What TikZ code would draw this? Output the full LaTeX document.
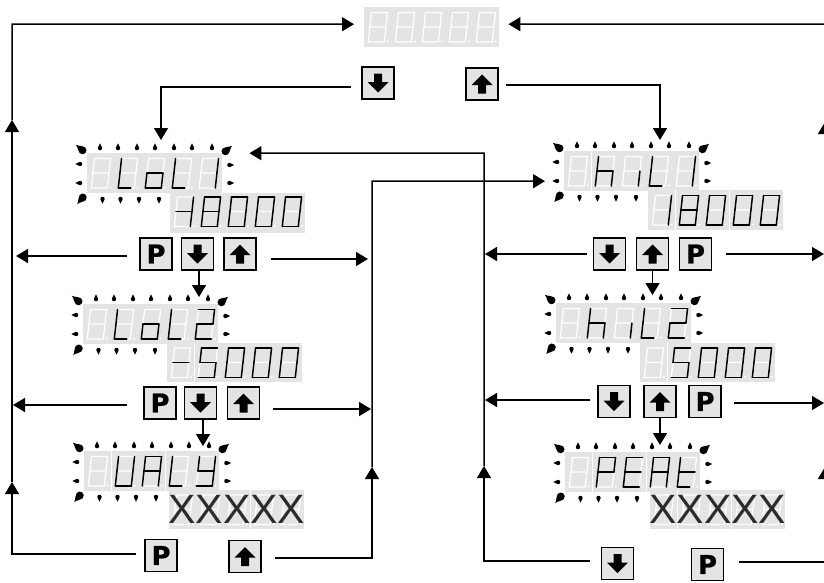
\documentclass[tikz,border=0pt]{standalone}
\usepackage{fontspec}
\setmainfont{Liberation Sans}
\newfontfamily\btnfont[BoldFeatures={FakeBold=0.7}]{DejaVu Sans}
\usetikzlibrary{arrows.meta}
\definecolor{panelgray}{HTML}{E4E4E4}
\definecolor{xgray}{HTML}{2B2B2B}
\tikzset{
  conn/.style={draw=black,line width=1.5pt},
  arr/.style={conn,-{Triangle[length=12pt,width=14pt]}},
  panelbox/.style={fill=panelgray,draw=none,anchor=north west,inner sep=0pt,minimum width=135pt,minimum height=39.5pt},
  btnbox/.style={fill=panelgray,draw=black,line width=1.5pt,inner sep=0pt,minimum width=32pt,minimum height=32pt},
  ghost/.style={draw=white,line width=1.3pt,line cap=round},
  lit/.style={draw=black,line width=1.5pt,line cap=round},
  xmark/.style={text=xgray,inner sep=0pt,font=\fontsize{41}{41}\selectfont}
}
\def\sga{(0,-29.5)--(16,-29.5)}
\def\sgb{(16,-29.5)--(16,-15)}
\def\sgc{(16,-15)--(16,0)}
\def\sgd{(0,0)--(16,0)}
\def\sge{(0,-15)--(0,0)}
\def\sgf{(0,-29.5)--(0,-15)}
\def\sgg{(0,-15)--(16,-15)}
\def\sgs{(0,0)--(12.5,0)}
\def\sgn{(0,0)}
\def\dy{35}
% one digit: cell left, cell top, list of lit segments
\newcommand\dig[3]{%
  \begin{scope}[shift={(#1+4.3,#2+\dy)},xslant=0.11]
    \draw[ghost] (0,-29.5) rectangle (16,0) (0,-15) -- (16,-15);
    \fill[white] (19.4,-0.5) circle (1.1pt);
    \foreach \s in {#3}{%
      \expandafter\let\expandafter\segtmp\csname sg\s\endcsname
      \draw[lit] \segtmp;
    }
  \end{scope}}
% panel of five digits
\newcommand\disp[8]{%
  \node[panelbox] (#1) at (#2,#3) {};
  \dig{#2}{#3}{#4}\dig{#2+27}{#3}{#5}\dig{#2+54}{#3}{#6}\dig{#2+81}{#3}{#7}\dig{#2+108}{#3}{#8}}
\newcommand\psep[2]{\draw[white,line width=0.8pt] ([xshift=#2*27pt]#1.north west) -- ([xshift=#2*27pt]#1.south west);}
% drop: x,y,rotation,scale
\newcommand\drp[4]{\fill[black,shift={(#1,#2)},rotate=#3,scale=#4] (0,-3.5) .. controls (0.4,-1.5) and (2.1,-0.6) .. (2.1,1) .. controls (2.1,3.8) and (-2.1,3.8) .. (-2.1,1) .. controls (-2.1,-0.6) and (-0.4,-1.5) .. (0,-3.5) -- cycle;}
\newcommand\blinks[2]{%
  \foreach \q in {13,31,50,68,87,105,125}{\drp{#1+\q}{#2-6}{0}{1.05}}
  \foreach \q in {15.5,33.5,52,72}{\drp{#1+\q}{#2+47}{180}{1.05}}
  \drp{#1-8}{#2+11}{90}{1.05}\drp{#1-8}{#2+30}{90}{1.05}
  \drp{#1+143.5}{#2+12}{-90}{1.05}\drp{#1+143.5}{#2+30}{-90}{1.05}
  \drp{#1-6}{#2-4}{50}{1.9}\drp{#1+140}{#2-3}{-50}{1.9}\drp{#1-5.5}{#2+46}{140}{1.9}}
% buttons
\newcommand\btnP[3]{\node[btnbox,font=\btnfont\bfseries\fontsize{26}{26}\selectfont] (#1) at (#2,#3) {P};}
\newcommand\btnU[3]{\node[btnbox] (#1) at (#2,#3) {};
  \fill[black,shift={(#1.center)}] (0,-9.5) -- (10.5,1) -- (4,1) -- (4,9.5) -- (-4,9.5) -- (-4,1) -- (-10.5,1) -- cycle;}
\newcommand\btnD[3]{\node[btnbox] (#1) at (#2,#3) {};
  \fill[black,shift={(#1.center)}] (0,9.5) -- (10.5,-1) -- (4,-1) -- (4,-9.5) -- (-4,-9.5) -- (-4,-1) -- (-10.5,-1) -- cycle;}
\begin{document}
\begin{tikzpicture}[x=1pt,y=-1pt]
\useasboundingbox (0,0) rectangle (824,582);
\clip (0,0) rectangle (824,582);

% displays
\disp{dTop}{364}{7}{n}{n}{n}{n}{n}

\disp{dLoA}{87}{153}{n}{s,e,f}{c,d,e,g}{s,e,f}{b,c}
\def\dy{33.5}
\disp{dLoAv}{170}{193}{b,c,g}{a,b,c,d,e,f,g}{a,b,c,d,e,f}{a,b,c,d,e,f}{a,b,c,d,e,f}
\def\dy{35}
\blinks{87}{153}

\disp{dLoB}{83}{304}{n}{s,e,f}{c,d,e,g}{s,e,f}{a,b,g,e,d}
\disp{dLoBv}{167}{342.5}{g}{a,f,g,c,d}{a,b,c,d,e,f}{a,b,c,d,e,f}{a,b,c,d,e,f}
\psep{dLoBv}{1}
\blinks{83}{304}

\disp{dVal}{84}{451}{n}{b,c,d,e,f}{a,b,c,e,f,g}{s,e,f}{b,c,d,f,g}
\disp{dValv}{169}{489.5}{n}{n}{n}{n}{n}
\psep{dVal}{1}\psep{dVal}{3}\psep{dValv}{3}
\node[xmark] (xVal) at (dValv.center) {XXXXX};
\blinks{84}{451}

\disp{dHiA}{564}{151}{n}{c,e,f,g}{c}{s,e,f}{b,c}
\disp{dHiAv}{648}{190}{b,c}{a,b,c,d,e,f,g}{a,b,c,d,e,f}{a,b,c,d,e,f}{a,b,c,d,e,f}
\psep{dHiA}{1}\psep{dHiAv}{1}\psep{dHiAv}{3}
\blinks{564}{151}

\disp{dHiB}{556}{303}{n}{c,e,f,g}{c}{s,e,f}{a,b,g,e,d}
\disp{dHiBv}{640}{342.5}{n}{a,f,g,c,d}{a,b,c,d,e,f}{a,b,c,d,e,f}{a,b,c,d,e,f}
\psep{dHiBv}{1}
\blinks{556}{303}

\disp{dPk}{565}{452}{n}{a,b,e,f,g}{a,d,e,f,g}{a,b,c,e,f,g}{s,e,f,g}
\disp{dPkv}{650}{489.5}{n}{n}{n}{n}{n}
\psep{dPk}{1}\psep{dPk}{3}\psep{dPkv}{1}\psep{dPkv}{3}
\node[xmark] (xPk) at (dPkv.center) {XXXXX};
\blinks{565}{452}

% buttons
\btnD{bTopD}{378}{83}
\btnU{bTopU}{482}{84}
\btnP{bAP}{156}{254}
\btnD{bAD}{197.5}{254}
\btnU{bAU}{240}{254}
\btnP{bBP}{160}{403}
\btnD{bBD}{200.5}{403}
\btnU{bBU}{243.5}{403}
\btnP{bCP}{161}{555.5}
\btnU{bCU}{245}{556.5}
\btnD{bRAD}{609.5}{254}
\btnU{bRAU}{652.5}{254}
\btnP{bRAP}{695.5}{254}
\btnD{bRBD}{614}{401.5}
\btnU{bRBU}{660}{401.5}
\btnP{bRBP}{705}{401.5}
\btnD{bRCD}{617.5}{563.5}
\btnP{bRCP}{707.5}{564.5}

% way points
\coordinate (lBot) at (12,554);
\coordinate (lMidA) at (12,482);
\coordinate (lMidB) at (12,120);
\coordinate (lTop) at (12,24);
\coordinate (lRowA) at (16,256);
\coordinate (lRowB) at (13,405);
\coordinate (mBot) at (372,558);
\coordinate (mMid) at (372,467);
\coordinate (mTop) at (372,181);
\coordinate (mRowA) at (368,259);
\coordinate (mRowB) at (371,409);
\coordinate (nBot) at (484,561);
\coordinate (nMid) at (484,466);
\coordinate (nTop) at (484,153);
\coordinate (nRowA) at (485,254);
\coordinate (nRowB) at (485,400);
\coordinate (rBot) at (825,562);
\coordinate (rMidA) at (825,467);
\coordinate (rMidB) at (825,122);
\coordinate (rTop) at (825,24);
\coordinate (rRowA) at (824,254);
\coordinate (rRowB) at (824,403);
\coordinate (tLeft) at (161,87);
\coordinate (tRight) at (660,85);
\coordinate (tipLoA) at (161,140);
\coordinate (tipHiA) at (660,140);
\coordinate (tipLoB) at (199,297);
\coordinate (tipVal) at (203,446);
\coordinate (tipHiB) at (652.5,295);
\coordinate (tipPk) at (660,445);

% outer left loop
\draw[arr] ([xshift=-8pt,yshift=1.5pt]bCP.west) -- (lBot) -- (lMidA);
\draw[arr] (lMidA) -- (lMidB);
\draw[arr] (lMidB) -- (lTop) -- ([xshift=-10pt,yshift=2.75pt]dTop.west);
\draw[arr] ([xshift=-12pt,yshift=-2pt]bAP.west) -- (lRowA);
\draw[arr] ([xshift=-16pt,yshift=-2pt]bBP.west) -- (lRowB);

% middle-left bus
\draw[arr] ([xshift=13pt,yshift=-1.5pt]bCU.east) -- (mBot) -- (mMid);
\draw[arr] (mMid) -- (mTop) -- ([xshift=-19pt,yshift=-10.25pt]dHiA.west);
\draw[arr] ([xshift=14pt,yshift=-5pt]bAU.east) -- (mRowA);
\draw[arr] ([xshift=13pt,yshift=-6pt]bBU.east) -- (mRowB);

% middle-right bus
\draw[arr] ([xshift=-11pt,yshift=2.5pt]bRCD.west) -- (nBot) -- (nMid);
\draw[arr] (nMid) -- (nTop) -- ([xshift=27pt,yshift=19.75pt]dLoA.east);
\draw[arr] ([xshift=-6pt]bRAD.west) -- (nRowA);
\draw[arr] ([xshift=-7pt,yshift=1.5pt]bRBD.west) -- (nRowB);

% outer right loop
\draw[arr] ([xshift=15pt,yshift=2.5pt]bRCP.east) -- (rBot) -- (rMidA);
\draw[arr] (rMidA) -- (rMidB);
\draw[arr] (rMidB) -- (rTop) -- ([xshift=9pt,yshift=2.75pt]dTop.east);
\draw[arr] ([xshift=14pt]bRAP.east) -- (rRowA);
\draw[arr] ([xshift=12pt,yshift=-1.5pt]bRBP.east) -- (rRowB);

% top buttons into the first displays
\draw[arr] ([xshift=-10pt,yshift=-4pt]bTopD.west) -- (tLeft) -- (tipLoA);
\draw[arr] ([xshift=7pt,yshift=-1pt]bTopU.east) -- (tRight) -- (tipHiA);

% short steps
\draw[arr] ([xshift=1.5pt]bAD.south) -- (tipLoB);
\draw[arr] ([xshift=2.5pt]bBD.south) -- (tipVal);
\draw[arr] (bRAU.south) -- (tipHiB);
\draw[arr] (bRBU.south) -- (tipPk);
\end{tikzpicture}
\end{document}
